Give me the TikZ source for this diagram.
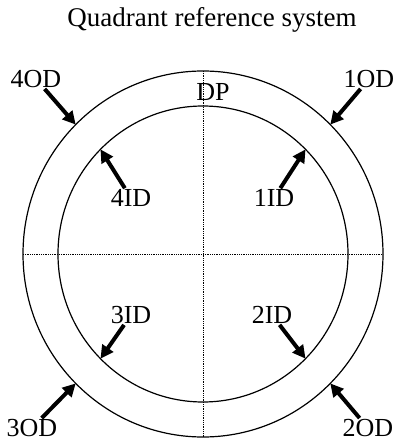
\documentclass[tikz,border=0pt]{standalone}
\usepackage{fontspec}
\setmainfont{Liberation Serif}
\usetikzlibrary{arrows.meta}

\tikzset{
  lbl/.style={inner sep=1pt, font=\fontsize{26}{28}\selectfont},
  ring/.style={line width=1.2pt},
  axis/.style={line width=0.8pt, densely dotted},
  arr/.style={line width=4pt, -{Triangle[length=13pt,width=13pt]}}
}

\begin{document}
\begin{tikzpicture}[x=1pt,y=1pt]
    \useasboundingbox (-203,-190) rectangle (194,254);
    \node[lbl, font=\fontsize{27}{29}\selectfont] (title) at (9,234) {Quadrant reference system};

    % rings and axes
    \draw[ring] (0,0) ellipse [x radius=180, y radius=183];
    \draw[ring] (0,0) ellipse [x radius=145, y radius=148];
    \coordinate (top) at (0,183);
    \coordinate (bot) at (0,-183);
    \coordinate (lft) at (-180,0);
    \coordinate (rgt) at (180,0);
    \draw[axis] (top) -- (bot);
    \draw[axis] (lft) -- (rgt);

    % points on the rings
    \coordinate (o1) at (45:180 and 183);
    \coordinate (o2) at (-45:180 and 183);
    \coordinate (o3) at (-135:180 and 183);
    \coordinate (o4) at (135:180 and 183);
    \coordinate (i1) at (45:145 and 148);
    \coordinate (i2) at (-45:145 and 148);
    \coordinate (i3) at (-135:145 and 148);
    \coordinate (i4) at (135:145 and 148);

    \node[lbl] (dp) at (10,162) {DP};
    \node[lbl] (od1) at (166,175) {1OD};
    \node[lbl] (od4) at (-167,175) {4OD};
    \node[lbl] (id1) at (71,56) {1ID};
    \node[lbl] (id4) at (-72,56) {4ID};
    \node[lbl] (id3) at (-72,-61) {3ID};
    \node[lbl] (id2) at (69,-61) {2ID};
    \node[lbl] (od3) at (-171,-174) {3OD};
    \node[lbl] (od2) at (165,-174) {2OD};

    \foreach \a/\b in {od1/o1,od2/o2,od3/o3,od4/o4,id1/i1,id2/i2,id3/i3,id4/i4}
      \draw[arr] (\a) -- (\b);
\end{tikzpicture}
\end{document}
